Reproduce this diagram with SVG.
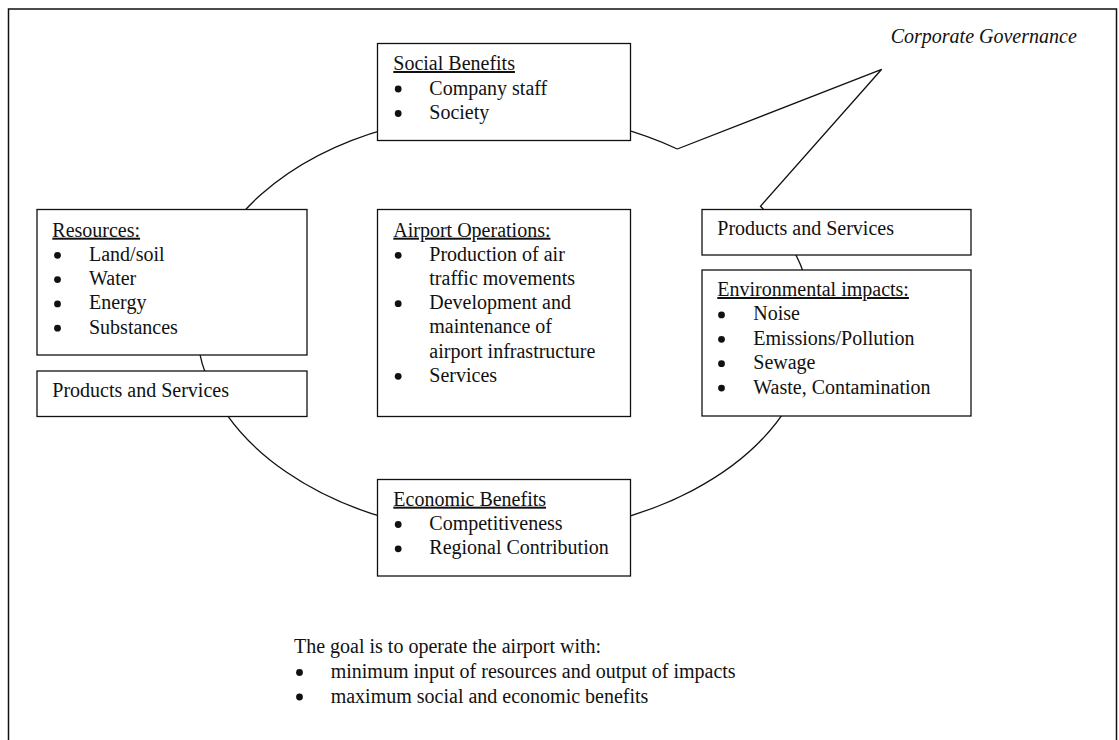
<svg xmlns="http://www.w3.org/2000/svg" width="1119" height="740" viewBox="0 0 1119 740">
<style>
text{font-family:"Liberation Serif","Times New Roman",serif;font-size:20px;fill:#111}
.u{text-decoration:underline}
.it{font-style:italic}
.d{fill:#111}
.box{fill:#fff;stroke:#111;stroke-width:1.3}
.ln{fill:none;stroke:#111;stroke-width:1.3}
</style>
<rect x="8.5" y="9" width="1108" height="745" fill="#fff" stroke="#111" stroke-width="1.5"/>
<g id="connectors">
<path class="ln" d="M677.3 149 L881.7 69.3 L760.5 206.2 A308 210.7 0 1 1 677.3 149"/>
</g>
<g id="social">
<rect class="box" x="377.5" y="43.5" width="253" height="97"/>
<text x="393.3" y="70" class="u">Social Benefits</text>
<circle class="d" cx="398.2" cy="89" r="3.4"/><text x="429.3" y="94.5">Company staff</text>
<circle class="d" cx="398.2" cy="113.5" r="3.4"/><text x="429.3" y="119">Society</text>
</g>
<g id="resources">
<rect class="box" x="37" y="209.5" width="270" height="145.5"/>
<text x="52.3" y="236.7" class="u">Resources:</text>
<circle class="d" cx="57.5" cy="255.3" r="3.4"/><text x="89" y="260.8">Land/soil</text>
<circle class="d" cx="57.5" cy="279.6" r="3.4"/><text x="89" y="285.1">Water</text>
<circle class="d" cx="57.5" cy="303.9" r="3.4"/><text x="89" y="309.4">Energy</text>
<circle class="d" cx="57.5" cy="328.2" r="3.4"/><text x="89" y="333.7">Substances</text>
</g>
<g id="products-left">
<rect class="box" x="37" y="371" width="270" height="45.5"/>
<text x="52.3" y="396.7">Products and Services</text>
</g>
<g id="operations">
<rect class="box" x="377.5" y="209.5" width="253" height="207"/>
<text x="393.3" y="236.7" class="u">Airport Operations:</text>
<circle class="d" cx="398.2" cy="255.3" r="3.4"/><text x="429.3" y="260.8">Production of air</text>
<text x="429.3" y="285">traffic movements</text>
<circle class="d" cx="398.2" cy="303.7" r="3.4"/><text x="429.3" y="309.2">Development and</text>
<text x="429.3" y="333.4">maintenance of</text>
<text x="429.3" y="357.6">airport infrastructure</text>
<circle class="d" cx="398.2" cy="376.3" r="3.4"/><text x="429.3" y="381.8">Services</text>
</g>
<g id="products-right">
<rect class="box" x="702" y="209.5" width="269" height="45.5"/>
<text x="717.3" y="235">Products and Services</text>
</g>
<g id="environment">
<rect class="box" x="702" y="270" width="269" height="146"/>
<text x="717.3" y="296" class="u">Environmental impacts:</text>
<circle class="d" cx="721.5" cy="314.9" r="3.4"/><text x="753.3" y="320.4">Noise</text>
<circle class="d" cx="721.5" cy="339.3" r="3.4"/><text x="753.3" y="344.8">Emissions/Pollution</text>
<circle class="d" cx="721.5" cy="363.7" r="3.4"/><text x="753.3" y="369.2">Sewage</text>
<circle class="d" cx="721.5" cy="388.1" r="3.4"/><text x="753.3" y="393.6">Waste, Contamination</text>
</g>
<g id="economic">
<rect class="box" x="377.5" y="479.5" width="253" height="96.5"/>
<text x="393.3" y="505.7" class="u">Economic Benefits</text>
<circle class="d" cx="398.2" cy="524.5" r="3.4"/><text x="429.3" y="530">Competitiveness</text>
<circle class="d" cx="398.2" cy="548.8" r="3.4"/><text x="429.3" y="554.3">Regional Contribution</text>
</g>
<g id="governance">
<text x="890.7" y="43.3" class="it">Corporate Governance</text>
</g>
<g id="goal">
<text x="294" y="653.3">The goal is to operate the airport with:</text>
<circle class="d" cx="299.5" cy="672.5" r="3.4"/><text x="330.7" y="678">minimum input of resources and output of impacts</text>
<circle class="d" cx="299.5" cy="697" r="3.4"/><text x="330.7" y="702.5">maximum social and economic benefits</text>
</g>
</svg>
